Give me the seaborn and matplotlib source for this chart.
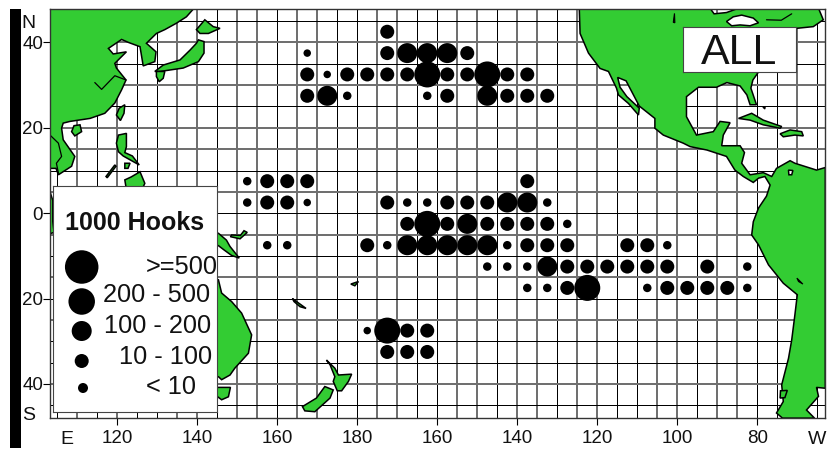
import matplotlib
matplotlib.use("Agg")
from matplotlib import pyplot as plt
from matplotlib.patches import Rectangle
import pandas as pd
import seaborn as sns

# effort by 5 degree square: longitude runs east from 0 to 360
row_lats = [42.5, 37.5, 32.5, 27.5, 7.5, 2.5, -2.5, -7.5, -12.5, -17.5, -27.5, -32.5]
row_lons = [
    [187.5],
    [167.5, 187.5, 192.5, 197.5, 202.5, 207.5],
    [167.5, 172.5, 177.5, 182.5, 187.5, 192.5, 197.5, 202.5, 207.5, 212.5, 217.5, 222.5],
    [167.5, 172.5, 177.5, 197.5, 202.5, 212.5, 217.5, 222.5, 227.5],
    [152.5, 157.5, 162.5, 167.5, 222.5],
    [152.5, 157.5, 162.5, 167.5, 187.5, 192.5, 197.5, 202.5, 207.5, 212.5, 217.5, 222.5, 227.5],
    [192.5, 197.5, 202.5, 207.5, 212.5, 217.5, 222.5, 227.5, 232.5],
    [157.5, 162.5, 182.5, 187.5, 192.5, 197.5, 202.5, 207.5, 212.5, 217.5, 222.5, 227.5, 232.5, 247.5, 252.5, 257.5],
    [212.5, 217.5, 222.5, 227.5, 232.5, 237.5, 242.5, 247.5, 252.5, 257.5, 267.5, 277.5],
    [222.5, 227.5, 232.5, 237.5, 252.5, 257.5, 262.5, 267.5, 272.5, 277.5],
    [182.5, 187.5, 192.5, 197.5],
    [187.5, 192.5, 197.5],
]
# 1 is >=500 ... 5 is < 10
row_classes = [
    [3],
    [5, 3, 2, 2, 2, 3],
    [3, 5, 3, 3, 3, 3, 1, 3, 3, 1, 3, 3],
    [3, 2, 4, 4, 3, 2, 3, 3, 3],
    [4, 3, 3, 3, 3],
    [4, 3, 3, 5, 3, 4, 4, 3, 3, 3, 2, 2, 4],
    [3, 1, 3, 2, 3, 3, 3, 3, 4],
    [4, 4, 3, 4, 2, 2, 2, 2, 2, 4, 3, 3, 3, 3, 3, 4],
    [4, 4, 4, 2, 3, 3, 3, 3, 3, 3, 3, 4],
    [4, 4, 3, 1, 4, 3, 3, 3, 3, 4],
    [5, 1, 3, 3],
    [3, 3, 3],
]
legend_labels = [">=500", "200 - 500", "100 - 200", "10 - 100", "< 10"]
legend_classes = [1, 2, 3, 4, 5]

x_tick_lons = [120, 140, 160, 180, 200, 220, 240, 260, 280]
x_tick_labels = ["120", "140", "160", "180", "160", "140", "120", "100", "80"]
y_tick_lats = [40, 20, 0, -20, -40]
y_tick_labels = ["40", "20", "0", "20", "40"]

gray_lons = [110, 120, 135, 140, 150, 155, 165, 170, 185, 190, 205, 210, 220, 225,
             235, 240, 255, 260, 270, 275, 290]
gray_lats = [40, 30, 20, 15, 5, -5, -15, -25, -40]

# coastlines, (lon, lat)
eurasia = [(103.2, 48), (139.2, 48), (137.3, 46), (134.8, 44.5), (131.9, 43), (129.8, 42.1),
           (127.3, 39.8), (129.7, 37.8), (129.4, 35.5), (126.5, 34.5), (125.7, 39), (122.8, 40),
           (121.1, 40.7), (117.8, 38.6), (119, 37.3), (122.3, 37.8), (119.4, 35.1), (119.8, 34),
           (122.2, 31.2), (121.1, 28.9), (119.4, 25.8), (116.9, 23.4), (113.2, 22.2), (108.2, 21.5),
           (106.5, 21.1), (106.1, 19.9), (106.5, 17.2), (109.4, 13.3), (108.6, 11), (105.3, 9),
           (104.7, 10.5), (103.2, 10.5)]
hainan = [(108.6, 19.1), (109.2, 20.5), (110.7, 20.7), (111.1, 19.1), (109.4, 18.1)]
sumatra = [(103.2, 5), (103.9, 3), (103.9, -2), (104.2, -4.5), (103.2, -4.8)]
hokkaido = [(139.8, 43), (141.9, 45.3), (144, 43.7), (145.7, 43.3), (142.8, 42.1), (140.7, 42.1)]
honshu = [(140.3, 40.6), (141.7, 40.2), (141.7, 37.5), (140.3, 35.5), (136.5, 34), (130.7, 33.2),
          (129.4, 33.2), (131.5, 34.7), (135.7, 35.9), (138.2, 38.2), (139.8, 39.8)]
kyushu = [(129.8, 33.2), (131.9, 33.2), (131.5, 31.6), (130.5, 30.8), (129.8, 32)]
taiwan = [(120.5, 24.6), (121.9, 25.4), (121.7, 23.4), (120.8, 21.7), (119.8, 23)]
luzon = [(120.3, 18.3), (122.3, 18.7), (122.3, 15.6), (121.9, 14.2), (123.8, 13.4), (125.5, 11.3),
         (123.6, 12.3), (121.5, 13.4), (120.3, 14.4), (119.8, 16.4)]
visayas = [(121.9, 11.7), (123.2, 11.7), (122.7, 10.5), (121.9, 10.5)]
palawan = [(117.2, 8.6), (119.4, 11.3), (119.7, 11), (117.5, 8.3)]
mindanao = [(121.9, 7.8), (123.5, 8.5), (125.7, 9.7), (126.9, 7), (126.2, 5.5), (122.3, 5.5)]
new_guinea = [(145.3, -4.7), (147.3, -6.3), (148.2, -7.8), (150.5, -10.5), (148.6, -9.9), (146.7, -8.6),
              (145.3, -7.6), (144, -7.4), (144, -4.7)]
new_britain = [(148.3, -5.5), (150.7, -6), (152.5, -4.5), (151.7, -4.1), (150.8, -5.2), (148.6, -5.1)]
australia = [(145.3, -15.6), (146.1, -18.7), (148.6, -20.7), (151.1, -23.4), (153.6, -28.5), (152.8, -32.8),
             (149.4, -36.3), (148.2, -37.9), (146.1, -39), (145.3, -38.3), (144, -38.3), (144, -15.6)]
tasmania = [(144, -40.8), (148.3, -40.8), (147.8, -43), (146.1, -43.7), (144, -42.2)]
new_caledonia = [(163.8, -20), (167.2, -22.3), (165.7, -21.9), (164.2, -20.7)]
fiji = [(178.4, -16.6), (180.3, -16), (179.4, -17)]
nz_north = [(172.3, -34.4), (174.4, -36.3), (175.3, -37.9), (178.6, -37.7), (177.8, -39.4), (176.1, -41.6),
            (175, -41.6), (174, -39.4), (174.4, -38.3), (173.2, -35.5)]
nz_south = [(171.9, -40.6), (174, -41.4), (173.2, -43.3), (169.4, -46.5), (166.9, -46.3), (166.3, -45.3),
            (169.8, -43.3)]
americas = [(235.5, 48), (268.2, 48), (269.2, 46.7), (272.3, 47), (275.3, 48), (295.3, 48), (296.5, 45.3),
            (294, 43.7), (289.8, 43.3), (284.8, 39), (280.7, 33.6), (278.9, 31.2), (278.4, 29.3),
            (279.8, 25.4), (278.2, 25.4), (277.4, 27.7), (275.7, 29.8), (272.4, 30.6), (269.8, 29.5),
            (265.3, 29.5), (262.3, 27.3), (262.3, 22.6), (264.8, 18.3), (269, 19.1), (270.7, 21.5),
            (273.2, 21.2), (271.5, 18.3), (271.1, 15.8), (275.7, 15.8), (276.8, 14.2), (276.1, 11.7),
            (278.2, 9), (281.5, 9.5), (283.6, 8.6), (284.8, 10.5), (288.2, 12.3), (289.4, 11.7),
            (294.8, 10.1), (297, 10.7), (297, -41), (294.8, -40.8), (295.3, -42.9), (292.3, -46.1),
            (294.3, -48), (286.3, -48), (284.8, -46.8), (286.5, -44.1), (286.1, -40.2), (287.8, -34),
            (288.6, -29.7), (289.4, -23.8), (290, -19.1), (286.5, -16.4), (282.8, -12.1), (280.3, -7.4),
            (278.6, -5.1), (279, -2), (280.3, 1.2), (282.3, 4), (283.2, 6.6), (281.9, 8.6), (280.3, 8.2),
            (279, 7.2), (276.5, 8.6), (274.4, 10.1), (272.3, 13.3), (267.4, 14.8), (263.2, 15.6),
            (261.5, 16.4), (256.5, 18.3), (254.4, 19.9), (254.4, 22.2), (250.5, 25.1), (247.2, 31),
            (245.1, 31.8), (245.7, 29.5), (247.4, 27.3), (250.5, 24.6), (250.3, 23), (247.8, 25.7),
            (245.3, 27.7), (244.8, 29.3), (242.8, 33.2), (240.7, 33.9), (237.8, 37.5), (235.7, 42.1)]
cuba = [(275.3, 22.2), (278.6, 23.4), (281.5, 21.8), (286.1, 20.3), (285.7, 19.9), (281.5, 20.7), (278.2, 21.8)]
hispaniola = [(285.7, 18.6), (288.2, 19.5), (291.1, 19.1), (291.5, 18.1), (289.4, 18.3), (286.5, 17.9)]
chiloe = [(285.8, -41.6), (287.5, -41.5), (286.9, -43.2), (285.7, -43.3)]
land_shapes = [eurasia, hainan, sumatra, hokkaido, honshu, kyushu, taiwan, luzon, visayas, palawan,
               mindanao, new_guinea, new_britain, australia, tasmania, new_caledonia, fiji,
               nz_north, nz_south, americas, cuba, hispaniola, chiloe]

great_lakes = [(272.3, 44.9), (274, 46), (276.1, 46.4), (279, 45.7), (280.3, 44.6), (278.2, 43.9),
               (275.7, 44.1), (273.6, 43.9)]
maracaibo = [(287.8, 10.1), (288.9, 10), (288.6, 9), (287.9, 9)]
white_shapes = [great_lakes, maracaibo]

titicaca = [(289.9, -15.2), (291.4, -16.6), (290.3, -16)]
bahamas = [(281.4, 24.8), (282, 25), (281.9, 24.4)]
winnipeg = [(259.3, 46.8), (259.4, 44.6), (259, 44.7)]
black_shapes = [titicaca, bahamas, winnipeg]

yangtze = [(114.4, 30.6), (116.1, 29), (119.4, 32.2), (122.2, 31.2)]
mekong = [(103.2, 18.3), (105.3, 16.4), (106.1, 13.3), (104.8, 11.7), (105.3, 9.4)]
st_lawrence = [(282.3, 45.3), (286, 45.2), (288.6, 46.7)]
river_lines = [yangtze, mekong, st_lawrence]

rows = []
for lat, lons, classes in zip(row_lats, row_lons, row_classes):
    for lon, c in zip(lons, classes):
        rows.append({"lon": lon, "lat": lat, "cls": c})
df = pd.DataFrame(rows)

W, H = 829, 450
LAND = "#33cc33"


def px_box(x0, y0, x1, y1):
    return [x0 / W, 1 - y1 / H, (x1 - x0) / W, (y1 - y0) / H]


def diam(d):
    # pixel diameter to scatter area at dpi 100
    return (d * 0.72) ** 2


sns.set_style("white")
plt.rcParams["font.family"] = ["Liberation Sans", "DejaVu Sans"]

fig = plt.figure(figsize=(W / 100, H / 100), dpi=100)
fig.patches.append(Rectangle((10 / W, 1 - 448 / H), 11 / W, 439 / H, transform=fig.transFigure,
                             facecolor="black", edgecolor="none"))

ax = fig.add_axes(px_box(50, 8.7, 825.3, 417.7))
ax.set_xlim(103.2, 297)
ax.set_ylim(-47.9, 47.9)

for lon in range(105, 297, 5):
    if lon in gray_lons:
        ax.axvline(lon, color="#707070", lw=1.44, zorder=1)
    else:
        ax.axvline(lon, color="black", lw=0.72, zorder=1)
for lat in range(-45, 46, 5):
    if lat in gray_lats:
        ax.axhline(lat, color="#707070", lw=1.44, zorder=1)
    else:
        ax.axhline(lat, color="black", lw=0.72, zorder=1)

for shape in land_shapes:
    ax.fill(*zip(*shape), facecolor=LAND, edgecolor="black", lw=1.1, zorder=2)
for shape in white_shapes:
    ax.fill(*zip(*shape), facecolor="white", edgecolor="black", lw=1.1, zorder=2.1)
for shape in black_shapes:
    ax.fill(*zip(*shape), facecolor="black", edgecolor="black", lw=0.8, zorder=2.1)
for line in river_lines:
    ax.plot(*zip(*line), color="black", lw=0.9, zorder=2.1)

map_sizes = {1: diam(26), 2: diam(20), 3: diam(14), 4: diam(8.5), 5: diam(7.5)}
sns.scatterplot(data=df, x="lon", y="lat", size="cls", sizes=map_sizes, color="black",
                linewidth=0, legend=False, ax=ax, zorder=3)

ax.set_xlabel("")
ax.set_ylabel("")
ax.set_xticks(x_tick_lons)
ax.set_xticklabels(x_tick_labels)
ax.set_yticks(y_tick_lats)
ax.set_yticklabels(y_tick_labels)
ax.tick_params(axis="both", length=5, width=0.8, color="black", labelsize=13.5,
               labelcolor="#111111", bottom=True, left=True)
ax.tick_params(axis="x", pad=4)
ax.tick_params(axis="y", pad=0)
for spine in ax.spines.values():
    spine.set_color("#333333")
    spine.set_linewidth(1)
    spine.set_zorder(4)

# hemisphere letters sit in the tick label rows
letter_style = dict(fontsize=14, color="#111111", va="center", ha="center")
fig.text(67 / W, 1 - 440 / H, "E", **letter_style)
fig.text(817 / W, 1 - 440 / H, "W", **letter_style)
fig.text(28 / W, 1 - 23 / H, "N", **letter_style)
fig.text(28.5 / W, 1 - 415 / H, "S", **letter_style)

# legend panel, laid out in figure pixels
leg = fig.add_axes(px_box(53, 185.5, 217.5, 412), zorder=5)
leg.set_xlim(53, 217.5)
leg.set_ylim(412, 185.5)
leg.set_xticks([])
leg.set_yticks([])
for spine in leg.spines.values():
    spine.set_color("#444444")
    spine.set_linewidth(0.8)

leg_x = [81.7, 81.7, 81.7, 81.7, 83]
leg_y = [267, 301.5, 331, 361, 388]
leg_sizes = {1: diam(33.5), 2: diam(26.5), 3: diam(20), 4: diam(14), 5: diam(10)}
leg_df = pd.DataFrame({"x": leg_x, "y": leg_y, "cls": legend_classes})
sns.scatterplot(data=leg_df, x="x", y="y", size="cls", sizes=leg_sizes, color="black",
                linewidth=0, legend=False, ax=leg)
leg.set_xlabel("")
leg.set_ylabel("")
leg.text(135, 223, "1000 Hooks", fontsize=18, fontweight="bold", color="#111111",
         ha="center", va="center")
label_x = [146, 103, 104, 119, 146]
label_y = [267, 295.5, 326, 357, 387]
for tx, ty, label in zip(label_x, label_y, legend_labels):
    leg.text(tx, ty, label, fontsize=18.3, color="#111111", ha="left", va="center", clip_on=False)

# survey tag
tag = fig.add_axes(px_box(682.7, 26.7, 795.7, 72), zorder=5)
tag.set_xticks([])
tag.set_yticks([])
for spine in tag.spines.values():
    spine.set_color("#444444")
    spine.set_linewidth(0.8)
tag.text(0.5, 0.42, "ALL", fontsize=31, color="#111111", ha="center", va="center",
         transform=tag.transAxes)

fig.savefig("out.png", dpi=100)
